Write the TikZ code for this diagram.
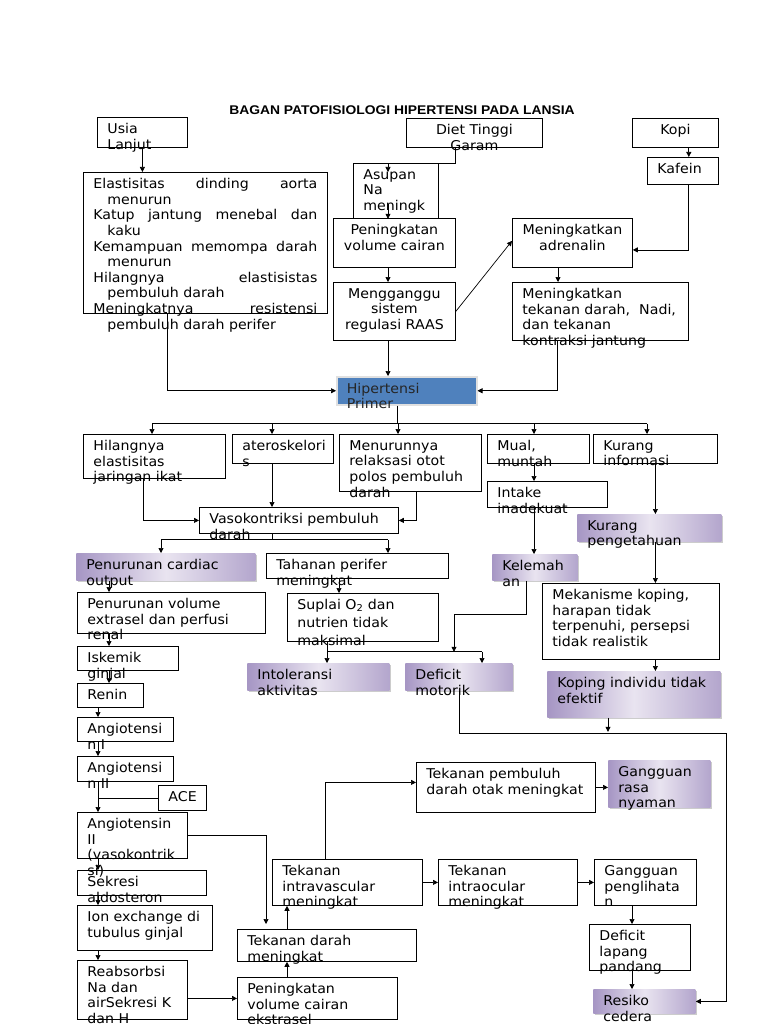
\documentclass[tikz,border=0pt]{standalone}
\usepackage{fontspec}
\setmainfont{DejaVu Sans}[FakeStretch=1.05]
\newfontfamily\titlefont{Liberation Sans}[FakeStretch=1.1]
\usetikzlibrary{arrows.meta,shadows}
\definecolor{ungutua}{RGB}{166,150,196}
\definecolor{ungumuda}{RGB}{233,228,240}
\definecolor{birukotak}{RGB}{79,129,189}
\newcommand{\isi}[3]{\parbox[t][\dimexpr#2-12pt\relax][t]{\dimexpr#1-20pt\relax}{\raggedright#3}}
\tikzset{
	kotak/.style={draw, line width=0.8pt, inner xsep=10pt, inner ysep=6pt, anchor=north west, font=\fontsize{13.5}{15.6}\selectfont},
	ungu/.style={kotak, draw=none, left color=ungutua, right color=ungutua!80!ungumuda, middle color=ungumuda, drop shadow={shadow xshift=1.5pt, shadow yshift=-1.5pt, opacity=0.4}},
	biru/.style={kotak, draw=black!12, line width=1.5pt, fill=birukotak, text=black!85, drop shadow={shadow xshift=1.5pt, shadow yshift=-1.5pt, opacity=0.4}},
	panah/.style={-{Triangle[length=5pt,width=5pt]}, line width=0.7pt}
}
\begin{document}
\begin{tikzpicture}[x=1pt,y=-1pt]
	\useasboundingbox (0,0) rectangle (768,1024);
	\node[font=\titlefont\bfseries\fontsize{12.6}{14}\selectfont, anchor=base] (judul) at (402,115) {BAGAN PATOFISIOLOGI HIPERTENSI PADA LANSIA};

	\node[kotak] (usia) at (97,117) {\isi{90pt}{30pt}{Usia\\Lanjut}};
	\node[kotak] (diet) at (406,118) {\isi{136pt}{29pt}{\centering Diet Tinggi\\Garam}};
	\node[kotak] (kopi) at (632,118) {\isi{86pt}{29pt}{\centering Kopi}};
	\node[kotak] (kafein) at (647,157) {\isi{71pt}{27pt}{Kafein}};
	\node[kotak] (asupan) at (353,163) {\isi{85pt}{55pt}{Asupan\\Na\\meningk}};
	\node[kotak] (elast) at (83,172) {\isi{244pt}{141pt}{Elastisitas\hfill dinding\hfill aorta\\\hspace*{14pt}menurun\\Katup\hfill jantung\hfill menebal\hfill dan\\\hspace*{14pt}kaku\\Kemampuan\hfill memompa\hfill darah\\\hspace*{14pt}menurun\\Hilangnya\hfill elastisistas\\\hspace*{14pt}pembuluh darah\\Meningkatnya\hfill resistensi\\\hspace*{14pt}pembuluh darah perifer}};
	\node[kotak] (pening) at (333,218) {\isi{122pt}{49pt}{\centering Peningkatan\\volume cairan}};
	\node[kotak] (meng) at (333,282) {\isi{122pt}{58pt}{\centering Mengganggu\\sistem\\regulasi RAAS}};
	\node[kotak] (adren) at (512,218) {\isi{120pt}{49pt}{\centering Meningkatkan\\adrenalin}};
	\node[kotak] (tek) at (512,282) {\isi{176pt}{58pt}{Meningkatkan\\tekanan darah,~ Nadi,\\dan tekanan\\kontraksi jantung}};
	\node[biru] (hip) at (336,376) {\isi{140pt}{28pt}{Hipertensi\\Primer}};

	\node[kotak] (hil) at (83,434) {\isi{142pt}{44pt}{Hilangnya\\elastisitas\\jaringan ikat}};
	\node[kotak] (ater) at (232,434) {\isi{101pt}{29pt}{ateroskelori\\s}};
	\node[kotak] (menu) at (339,434) {\isi{142pt}{57pt}{Menurunnya\\relaksasi otot\\polos pembuluh\\darah}};
	\node[kotak] (mual) at (487,434) {\isi{102pt}{29pt}{Mual,\\muntah}};
	\node[kotak] (kinfo) at (593,434) {\isi{124pt}{29pt}{Kurang\\informasi}};
	\node[kotak] (intake) at (487,481) {\isi{120pt}{26pt}{Intake\\inadekuat}};
	\node[kotak] (vaso) at (199,507) {\isi{199pt}{26pt}{Vasokontriksi pembuluh\\darah}};
	\node[ungu] (kpeng) at (577,514) {\isi{144pt}{27pt}{Kurang\\pengetahuan}};
	\node[ungu] (pcard) at (76,553) {\isi{179pt}{27pt}{Penurunan cardiac\\output}};
	\node[kotak] (tahan) at (266,553) {\isi{182pt}{25pt}{Tahanan perifer\\meningkat}};
	\node[ungu] (kelem) at (492,554) {\isi{85pt}{26pt}{Kelemah\\an}};
	\node[kotak] (mek) at (542,583) {\isi{177pt}{76pt}{Mekanisme koping,\\harapan tidak\\terpenuhi, persepsi\\tidak realistik}};
	\node[kotak] (pvol) at (77,592) {\isi{188pt}{41pt}{Penurunan volume\\extrasel dan perfusi\\renal}};
	\node[kotak] (suplai) at (287,593) {\isi{151pt}{48pt}{\baselineskip=18pt Suplai O\textsubscript{2} dan\\nutrien tidak\\maksimal}};
	\node[kotak] (iskem) at (77,646) {\isi{101pt}{24pt}{Iskemik\\ginjal}};
	\node[ungu] (intol) at (247,663) {\isi{142pt}{27pt}{Intoleransi\\aktivitas}};
	\node[ungu] (defm) at (405,663) {\isi{107pt}{27pt}{Deficit\\motorik}};
	\node[ungu] (koping) at (547,671) {\isi{173pt}{46pt}{Koping individu tidak\\efektif}};
	\node[kotak] (renin) at (77,683) {\isi{66pt}{24pt}{Renin}};
	\node[kotak] (ang1) at (77,717) {\isi{96pt}{24pt}{Angiotensi\\n I}};
	\node[kotak] (ang2) at (77,756) {\isi{96pt}{25pt}{Angiotensi\\n II}};
	\node[kotak] (ace) at (158,785) {\isi{48pt}{25pt}{ACE}};
	\node[kotak] (angv) at (77,812) {\isi{110pt}{46pt}{Angiotensin\\II\\(vasokontrik\\si)}};
	\node[kotak] (otak) at (416,762) {\isi{179pt}{50pt}{Tekanan pembuluh\\darah otak meningkat}};
	\node[ungu] (gnyaman) at (608,760) {\isi{102pt}{47pt}{Gangguan\\rasa\\nyaman}};
	\node[kotak] (intra) at (272,859) {\isi{150pt}{46pt}{Tekanan\\intravascular\\meningkat}};
	\node[kotak] (ocular) at (438,859) {\isi{139pt}{46pt}{Tekanan\\intraocular\\meningkat}};
	\node[kotak] (glihat) at (594,859) {\isi{102pt}{46pt}{Gangguan\\penglihata\\n}};
	\node[kotak] (sekresi) at (77,870) {\isi{129pt}{25pt}{Sekresi\\aldosteron}};
	\node[kotak] (ion) at (77,905) {\isi{135pt}{45pt}{Ion exchange di\\tubulus ginjal}};
	\node[kotak] (dlapang) at (589,924) {\isi{101pt}{46pt}{Deficit\\lapang\\pandang}};
	\node[kotak] (tdarah) at (237,929) {\isi{179pt}{32pt}{Tekanan darah\\meningkat}};
	\node[kotak] (reab) at (77,960) {\isi{110pt}{59pt}{Reabsorbsi\\Na dan\\airSekresi K\\dan H}};
	\node[kotak] (pek) at (237,977) {\isi{160pt}{42pt}{Peningkatan\\volume cairan\\ekstrasel}};
	\node[ungu] (resiko) at (593,989) {\isi{102pt}{24pt}{Resiko\\cedera}};

	\draw[panah] (usia.south) -- (usia.south |- elast.north);
	\draw[panah] ([xshift=84pt]elast.south west) |- (hip.west);
	\draw[panah] ([xshift=49pt]diet.south west) |- ([xshift=35pt]asupan.north west) -- ++(0,9);
	\draw[panah] ([xshift=35pt,yshift=15pt]asupan.south west) -- ([xshift=35pt]asupan.south west);
	\coordinate (f1) at ([xshift=55pt]meng.north west);
	\draw[panah] (f1 |- pening.south) -- (f1);
	\draw[panah] (f1 |- meng.south) -- (f1 |- hip.north);
	\draw[panah] (meng.east) -- ([yshift=2pt]adren.west);
	\draw[panah] ([xshift=-30pt]kopi.south east) -- ([xshift=-30pt]kafein.north east);
	\draw[panah] ([xshift=-30pt]kafein.south east) |- ([yshift=-7pt]adren.east);
	\draw[panah] ([xshift=46pt]adren.south west) -- ([xshift=46pt]tek.north west);
	\draw[panah] ([xshift=45pt]tek.south west) |- (hip.east);

	\coordinate (a1) at ([xshift=69pt]hil.north west);
	\coordinate (a2) at ([xshift=40pt]ater.north west);
	\coordinate (a3) at ([xshift=59pt]menu.north west);
	\coordinate (a4) at ([xshift=47pt]mual.north west);
	\coordinate (a5) at ([xshift=54pt]kinfo.north west);
	\coordinate (bar1) at ([xshift=61pt,yshift=-18pt]hip.south west);
	\draw[line width=0.7pt] ([xshift=61pt]hip.south west) -- (bar1);
	\draw[line width=0.7pt] (a1 |- bar1) -- (a5 |- bar1);
	\foreach \t in {a1,a2,a3,a4,a5}
		\draw[panah] (\t |- bar1) -- (\t);

	\draw[panah] ([xshift=60pt]hil.south west) |- (vaso.west);
	\draw[panah] (a2 |- ater.south) -- (a2 |- vaso.north);
	\draw[panah] ([xshift=77pt]menu.south west) |- (vaso.east);
	\draw[panah] (a4 |- mual.south) -- (a4 |- intake.north);
	\draw[panah] (a4 |- intake.south) -- (a4 |- kelem.north);
	\coordinate (g1) at (kinfo.south);
	\draw[panah] (g1) -- (g1 |- kpeng.north);
	\draw[panah] (g1 |- kpeng.south) -- (g1 |- mek.north);
	\draw[panah] (g1 |- mek.south) -- (g1 |- koping.north);

	\coordinate (c1) at ([xshift=85pt]pcard.north west);
	\coordinate (c2) at ([xshift=122pt]tahan.north west);
	\coordinate (bar2) at ([xshift=73pt,yshift=-6pt]vaso.south west);
	\draw[line width=0.7pt] ([xshift=73pt]vaso.south west) -- (bar2);
	\draw[line width=0.7pt] (c1 |- bar2) -- (c2 |- bar2);
	\foreach \t in {c1,c2}
		\draw[panah] (\t |- bar2) -- (\t);
	\draw[panah] ([xshift=73pt]tahan.south west) -- ([xshift=52pt]suplai.north west);

	\coordinate (d1) at ([xshift=80pt]intol.north west);
	\coordinate (d2) at ([xshift=77pt]defm.north west);
	\coordinate (bar3) at ([xshift=40pt,yshift=-10pt]suplai.south west);
	\draw[line width=0.7pt] ([xshift=40pt]suplai.south west) -- (bar3) -- (d2 |- bar3);
	\foreach \t in {d1,d2}
		\draw[panah] (\t |- bar3) -- (\t);
	\draw[panah] ([xshift=34pt]kelem.south west) -- ++(0,34) -- ++(-72,0) -- ++(0,37);

	\coordinate (sudut) at (726,733);
	\draw[panah] ([xshift=54pt]defm.south west) |- (sudut) |- (resiko.east);
	\draw[panah] ([xshift=61pt]koping.south west) -- ++(0,14);

	\coordinate (e1) at ([xshift=32pt]pvol.north west);
	\coordinate (e2) at ([xshift=21pt]ang1.north west);
	\foreach \a/\b in {pcard/pvol, pvol/iskem, iskem/renin}
		\draw[panah] (e1 |- \a.south) -- (e1 |- \b.north);
	\foreach \a/\b in {renin/ang1, ang1/ang2, ang2/angv, angv/sekresi, sekresi/ion, ion/reab}
		\draw[panah] (e2 |- \a.south) -- (e2 |- \b.north);
	\draw[line width=0.7pt] (ace.west) -- (e2 |- ace.west);

	\draw[panah] (reab.east |- pek.west) -- (pek.west);
	\coordinate (p1) at ([xshift=50pt]pek.north west);
	\draw[panah] (p1) -- (p1 |- tdarah.south);
	\draw[panah] (p1 |- tdarah.north) -- (p1 |- intra.south);
	\draw[panah] (angv.east) -| ([xshift=29pt,yshift=5pt]tdarah.north west);
	\draw[panah] ([xshift=53pt]intra.north west) |- ([yshift=5pt]otak.west);
	\draw[panah] (otak.east) -- (otak.east -| gnyaman.west);
	\draw[panah] (intra.east) -- (ocular.west);
	\draw[panah] (ocular.east) -- (glihat.west);
	\coordinate (q1) at ([xshift=38pt]glihat.south west);
	\draw[panah] (q1) -- (q1 |- dlapang.north);
	\draw[panah] (q1 |- dlapang.south) -- (q1 |- resiko.north);
\end{tikzpicture}
\end{document}
